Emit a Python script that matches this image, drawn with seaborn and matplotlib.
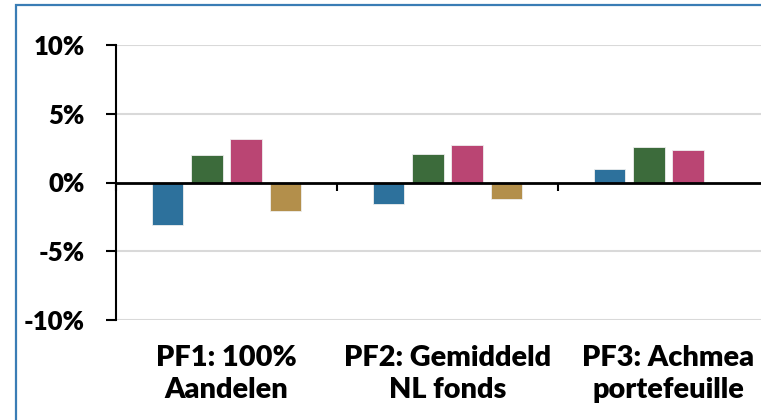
import matplotlib
matplotlib.use("Agg")
import matplotlib.pyplot as plt
import matplotlib.patches as mpatches
import matplotlib.ticker as mticker
import seaborn as sns
import pandas as pd

categories = ["PF1: 100%\nAandelen", "PF2: Gemiddeld\nNL fonds", "PF3: Achmea\nportefeuille"]
series = ["Reeks 1", "Reeks 2", "Reeks 3", "Reeks 4"]
values = {
    "Reeks 1": [-3.1, -1.55, 0.95],
    "Reeks 2": [2.0, 2.1, 2.55],
    "Reeks 3": [3.15, 2.7, 2.4],
    "Reeks 4": [-2.1, -1.2, 0.0],
}
colors = ["#2D719C", "#3C6B3B", "#BA4573", "#B38F4B"]
yticks = [-10, -5, 0, 5, 10]
ytick_labels = ["-10%", "-5%", "0%", "5%", "10%"]

rows = []
for s in series:
    for c, v in zip(categories, values[s]):
        rows.append({"cat": c, "series": s, "value": v})
df = pd.DataFrame(rows)

sns.set_style("white")
plt.rcParams["font.family"] = ["Lato", "DejaVu Sans"]
plt.rcParams["font.weight"] = "heavy"

fig = plt.figure(figsize=(7.61, 4.20), dpi=100)
W, H = 761, 420
ax = fig.add_axes([116 / W, 100 / H, 663 / W, 275 / H])

sns.barplot(data=df, x="cat", y="value", hue="series", order=categories,
            hue_order=series, palette=colors, saturation=1, width=0.71, gap=0.2,
            edgecolor="#eeeeee", linewidth=0.6, legend=False, ax=ax, zorder=3)

ax.set_ylim(-10, 10)
ax.set_xlim(-0.5, 2.5)
ax.set_yticks(yticks)
ax.set_yticklabels(ytick_labels)
for y in [-10, -5, 5, 10]:
    ax.axhline(y, color="#d9d9d9", lw=1.5, zorder=1)

for side in ["top", "right"]:
    ax.spines[side].set_visible(False)
ax.spines["left"].set_color("black")
ax.spines["left"].set_linewidth(1.5)
ax.spines["bottom"].set_position(("data", 0))
ax.spines["bottom"].set_color("black")
ax.spines["bottom"].set_linewidth(2.0)
ax.spines["bottom"].set_zorder(5)

ax.tick_params(axis="y", direction="out", length=7.5, width=1.5, color="black",
               pad=15, labelsize=18.5, labelcolor="black", left=True)
ax.xaxis.set_major_locator(mticker.FixedLocator([-0.5, 0.5, 1.5, 2.5]))
ax.xaxis.set_major_formatter(mticker.NullFormatter())
ax.xaxis.set_minor_locator(mticker.FixedLocator([0, 1, 2]))
ax.xaxis.set_minor_formatter(mticker.FixedFormatter(categories))
ax.tick_params(axis="x", which="major", direction="out", length=6, width=1.5,
               color="black", bottom=True)
ax.tick_params(axis="x", which="minor", length=0, pad=117, labelsize=20.8,
               labelcolor="black")
for lbl in ax.xaxis.get_minorticklabels():
    lbl.set_linespacing(1.3)
    lbl.set_fontweight("heavy")
for lbl in ax.get_yticklabels():
    lbl.set_fontweight("heavy")
ax.set_xlabel("")
ax.set_ylabel("")

border = mpatches.Rectangle((16 / W, -0.2), 1.0, 1.2 - 5 / H, transform=fig.transFigure,
                            fill=False, edgecolor="#3A7DB5", linewidth=1.6,
                            clip_on=False)
fig.patches.append(border)

fig.savefig("out.png", dpi=100)
